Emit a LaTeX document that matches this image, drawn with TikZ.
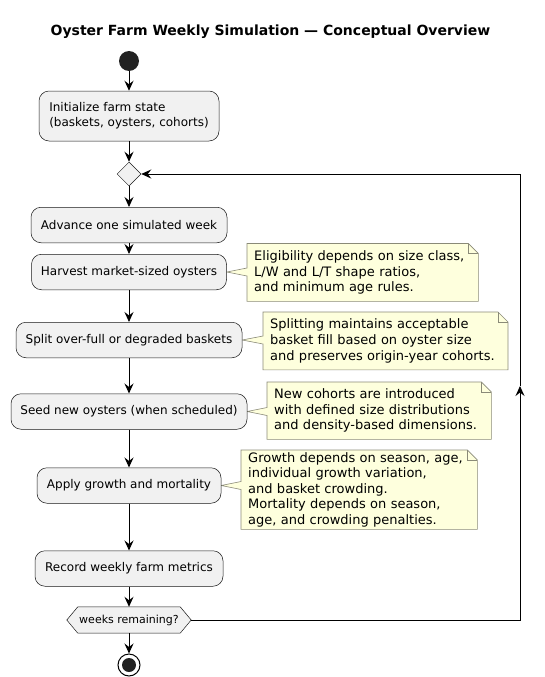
\documentclass[tikz,border=0pt]{standalone}
\usepackage{fontspec}
\setmainfont{DejaVu Sans}
\usetikzlibrary{arrows.meta,calc,shapes.geometric,backgrounds}
\definecolor{actfill}{HTML}{F1F1F1}
\definecolor{actdraw}{HTML}{181818}
\definecolor{notefill}{HTML}{FEFFDD}
\definecolor{notedraw}{HTML}{8A8A78}
\definecolor{startfill}{HTML}{222222}
\begin{document}
\begin{tikzpicture}[x=1pt,y=-1pt,
  act/.style={draw=actdraw, fill=actfill, rounded corners=10pt, line width=0.5pt, inner sep=0pt, minimum height=35.5pt, font=\fontsize{12}{15}\selectfont, align=left},
  flow/.style={-{Stealth[length=10pt,width=9pt,inset=3.5pt]}, line width=0.9pt, draw=black},
  plain/.style={line width=0.9pt, draw=black},
  notebox/.style={anchor=north west, inner xsep=7pt, inner ysep=0pt, align=left, font=\fontsize{13}{15.6}\selectfont},
  noteline/.style={draw=notedraw, fill=notefill, line width=0.6pt, line join=miter}]

\useasboundingbox (0,0) rectangle (545,677);

\node[font=\fontsize{14}{16}\selectfont\bfseries] (title) at (270.5,32) {Oyster Farm Weekly Simulation — Conceptual Overview};

\node[circle, fill=startfill, minimum size=20pt, inner sep=0pt] (start) at (129,61) {};
\node[act, minimum width=180pt, minimum height=50pt] (init) at (129,116) {Initialize farm state\\(baskets, oysters, cohorts)};
\node[diamond, draw=actdraw, fill=actfill, line width=0.5pt, minimum width=24pt, minimum height=24pt, inner sep=0pt] (dia) at (129,174) {};
\node[act, minimum width=196pt] (adv) at (129,225) {Advance one simulated week};
\node[act, minimum width=195pt] (harv) at (129,272) {Harvest market-sized oysters};
\node[act, minimum width=226pt] (split) at (129,340) {Split over-full or degraded baskets};
\node[act, minimum width=236pt] (seed) at (129,411.5) {Seed new oysters (when scheduled)};
\node[act, minimum width=184pt] (apply) at (129,485.5) {Apply growth and mortality};
\node[act, minimum width=188pt] (rec) at (129,568.5) {Record weekly farm metrics};
\node[minimum width=124pt, minimum height=26pt, inner sep=0pt, font=\fontsize{11}{13}\selectfont] (hex) at (129,620) {weeks remaining?};
\node[circle, draw=black, fill=white, line width=1pt, minimum size=22pt, inner sep=0pt] (end) at (129,665) {};
\fill[startfill] (end.center) circle (7pt);

\node[notebox, minimum width=231pt, minimum height=57.5pt, text width=217pt] (n1) at (247,243.5) {Eligibility depends on size class,\\L/W and L/T shape ratios,\\and minimum age rules.};
\node[notebox, minimum width=244.6pt, minimum height=57.5pt, text width=230.6pt] (n2) at (263,312) {Splitting maintains acceptable\\basket fill based on oyster size\\and preserves origin-year cohorts.};
\node[notebox, minimum width=224pt, minimum height=57pt, text width=210pt] (n3) at (267,382) {New cohorts are introduced\\with defined size distributions\\and density-based dimensions.};
\node[notebox, minimum width=236pt, minimum height=79pt, text width=222pt] (n4) at (241,450) {Growth depends on season, age,\\individual growth variation,\\and basket crowding.\\Mortality depends on season,\\age, and crowding penalties.};

\begin{scope}[on background layer]
  \foreach \n/\b in {n1/harv, n2/split, n3/seed, n4/apply} {
    \path[noteline] (\n.north west) -- ($(\n.north east)+(-10,0)$) -- ($(\n.north east)+(0,10)$) -- (\n.south east) -- (\n.south west)
      -- ($(\n.west |- \b.east)+(0,4)$) -- (\b.east) -- ($(\n.west |- \b.east)+(0,-4)$) -- cycle;
    \draw[draw=notedraw, line width=0.6pt, line join=miter] ($(\n.north east)+(-10,0)$) -- ($(\n.north east)+(-10,10)$) -- ($(\n.north east)+(0,10)$);
  }
  \path[draw=actdraw, fill=actfill, line width=0.5pt] (hex.west) -- ($(hex.north west)+(11,0)$) -- ($(hex.north east)+(-11,0)$) -- (hex.east) -- ($(hex.south east)+(-11,0)$) -- ($(hex.south west)+(11,0)$) -- cycle;
\end{scope}

\draw[flow] (start) -- (init);
\draw[flow] (init) -- (dia);
\draw[flow] (dia) -- (adv);
\draw[flow] (adv) -- (harv);
\draw[flow] (harv) -- (split);
\draw[flow] (split) -- (seed);
\draw[flow] (seed) -- (apply);
\draw[flow] (apply) -- (rec);
\draw[flow] (rec) -- (hex);
\draw[flow] (hex) -- (end);

\coordinate (lpA) at (520,620);
\coordinate (lpM) at (520,386);
\coordinate (lpB) at (520,174);
\draw[flow] (hex.east) -- (lpA) -- (lpM);
\draw[flow] (lpM) -- (lpB) -- (dia.east);
\end{tikzpicture}
\end{document}
